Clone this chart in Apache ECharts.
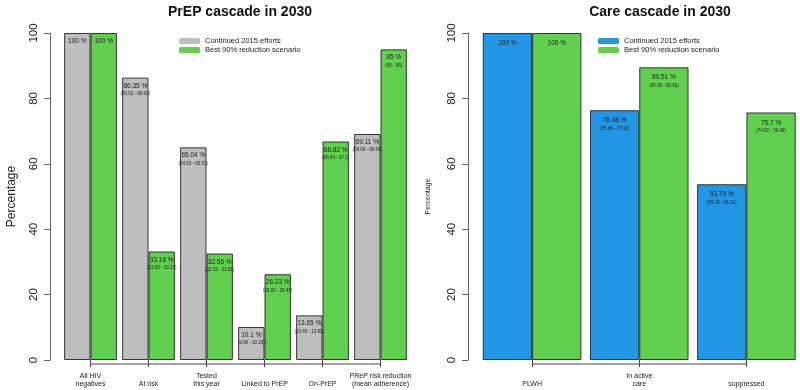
<!DOCTYPE html>
<html><head><meta charset="utf-8">
<script src="https://cdn.jsdelivr.net/npm/echarts@6/dist/echarts.min.js"></script>
<style>html,body{margin:0;padding:0;background:#fff}#c{width:800px;height:390px}</style>
</head><body><div id="c"></div>
<script>
// ---- data ----
const prepCategories = ['All HIV\nnegatives', 'At risk', 'Tested\nthis year', 'Linked to PrEP', 'On-PrEP', 'PReP risk reduction\n(mean adherence)'];
const prepContinued = [100, 86.35, 65.04, 10.1, 13.65, 69.11];
const prepContinuedCI = [null, '86.02 - 86.69', '64.63 - 65.53', '9.96 - 10.26', '13.45 - 13.85', '68.69 - 69.56'];
const prepBest = [100, 33.18, 32.56, 26.23, 66.82, 95];
const prepBestCI = [null, '33.09 - 33.27', '32.32 - 32.81', '26.01 - 26.46', '66.64 - 67.1', '95 - 95'];

const careCategories = ['PLWH', 'In active\ncare', 'suppressed'];
const careContinued = [100, 76.38, 53.75];
const careContinuedCI = [null, '75.66 - 77.11', '53.16 - 54.31'];
const careBest = [100, 89.51, 75.7];
const careBestCI = [null, '89.36 - 89.66', '74.92 - 76.46'];

const yMin = 0, yMax = 100, yStep = 20;
const seriesNames = ['Continued 2015 efforts', 'Best 90% reduction scenario'];
const titles = ['PrEP cascade in 2030', 'Care cascade in 2030'];
const yName = 'Percentage';

// ---- styles ----
const FONT = 'Liberation Sans, Arial, Helvetica, sans-serif';
const GRAY = '#BEBEBE', GREEN = '#61D04F', BLUE = '#2297E6';
const BORDER = 'rgba(0,0,0,0.75)';

function labelFor(ciArr, vSize, ciSize, dist) {
  return {
    show: true, position: 'insideTop', distance: dist, color: '#222', fontFamily: FONT,
    formatter: p => {
      const ci = ciArr[p.dataIndex];
      return '{v|' + p.value + ' %}' + (ci ? '\n{c|(' + ci + ')}' : '');
    },
    rich: {
      v: { fontSize: vSize, lineHeight: vSize + 2, color: '#222', fontFamily: FONT },
      c: { fontSize: ciSize, lineHeight: ciSize + 3, color: '#222', fontFamily: FONT }
    }
  };
}

function yAxisFor(gridIndex, offset, nameSize, nameGap) {
  return {
    type: 'value', gridIndex, min: yMin, max: yMax, interval: yStep, offset,
    name: yName, nameLocation: 'middle', nameGap,
    nameTextStyle: { fontSize: nameSize, color: '#222', fontFamily: FONT },
    splitLine: { show: false },
    axisLine: { show: true, lineStyle: { color: '#666', width: 1 } },
    axisTick: { show: true, length: 6, lineStyle: { color: '#666' } },
    axisLabel: { rotate: 90, fontSize: 11.5, color: '#222', margin: 10, fontFamily: FONT }
  };
}

function xAxisFor(gridIndex, data) {
  return {
    type: 'category', gridIndex, data, offset: 4,
    axisLine: { show: false },
    axisTick: { show: true, alignWithLabel: true, length: 7, lineStyle: { color: '#444' } },
    axisLabel: { fontSize: 7, lineHeight: 8, color: '#222', margin: 24, verticalAlign: 'bottom', interval: 0, fontFamily: FONT }
  };
}

function legendFor(left, c0, c1) {
  return {
    left, top: 37, padding: 0, orient: 'vertical', icon: 'roundRect', itemWidth: 21, itemHeight: 6, itemGap: 1,
    textStyle: { fontSize: 7.5, lineHeight: 8, color: '#222', fontFamily: FONT },
    data: [{ name: seriesNames[0], itemStyle: { color: c0, borderWidth: 0 } },
           { name: seriesNames[1], itemStyle: { color: c1, borderWidth: 0 } }]
  };
}

const chart = echarts.init(document.getElementById('c'), null, { renderer: 'canvas' });
chart.setOption({
  animation: false,
  backgroundColor: '#fff',
  title: [
    { text: titles[0], left: 235, top: 0, textAlign: 'center', textStyle: { fontSize: 14, fontWeight: 'bold', color: '#111', fontFamily: FONT } },
    { text: titles[1], left: 655, top: 0, textAlign: 'center', textStyle: { fontSize: 14, fontWeight: 'bold', color: '#111', fontFamily: FONT } }
  ],
  legend: [legendFor(179, GRAY, GREEN), legendFor(598, BLUE, GREEN)],
  grid: [
    { left: 61.5, top: 33, width: 348, height: 327, containLabel: false },
    { left: 478.5, top: 33, width: 323, height: 327, containLabel: false }
  ],
  xAxis: [xAxisFor(0, prepCategories), xAxisFor(1, careCategories)],
  yAxis: [yAxisFor(0, 11.5, 12, 32), yAxisFor(1, 10.5, 7, 36)],
  series: [
    { name: seriesNames[0], type: 'bar', xAxisIndex: 0, yAxisIndex: 0, data: prepContinued, barGap: '0%', barCategoryGap: '9%',
      itemStyle: { color: GRAY, borderColor: BORDER, borderWidth: 1 }, label: labelFor(prepContinuedCI, 6.5, 4.5, 4) },
    { name: seriesNames[1], type: 'bar', xAxisIndex: 0, yAxisIndex: 0, data: prepBest, barGap: '0%', barCategoryGap: '9%',
      itemStyle: { color: GREEN, borderColor: BORDER, borderWidth: 1 }, label: labelFor(prepBestCI, 6.5, 4.5, 4) },
    { name: seriesNames[0], type: 'bar', xAxisIndex: 1, yAxisIndex: 1, data: careContinued, barGap: '0%', barCategoryGap: '8%',
      itemStyle: { color: BLUE, borderColor: BORDER, borderWidth: 1 }, label: labelFor(careContinuedCI, 6.5, 4.5, 6) },
    { name: seriesNames[1], type: 'bar', xAxisIndex: 1, yAxisIndex: 1, data: careBest, barGap: '0%', barCategoryGap: '8%',
      itemStyle: { color: GREEN, borderColor: BORDER, borderWidth: 1 }, label: labelFor(careBestCI, 6.5, 4.5, 6) }
  ]
});

// R-style x axis line spanning first to last tick, positioned via the library's scales
function bracket(axisIndex, cats) {
  const x1 = chart.convertToPixel({ xAxisIndex: axisIndex }, cats[0]);
  const x2 = chart.convertToPixel({ xAxisIndex: axisIndex }, cats[cats.length - 1]);
  const y = chart.convertToPixel({ yAxisIndex: axisIndex }, yMin) + 4;
  return { type: 'line', shape: { x1, y1: y, x2, y2: y }, style: { stroke: '#444', lineWidth: 1 }, silent: true };
}
chart.setOption({ graphic: [bracket(0, prepCategories), bracket(1, careCategories)] });
</script>
</body></html>
